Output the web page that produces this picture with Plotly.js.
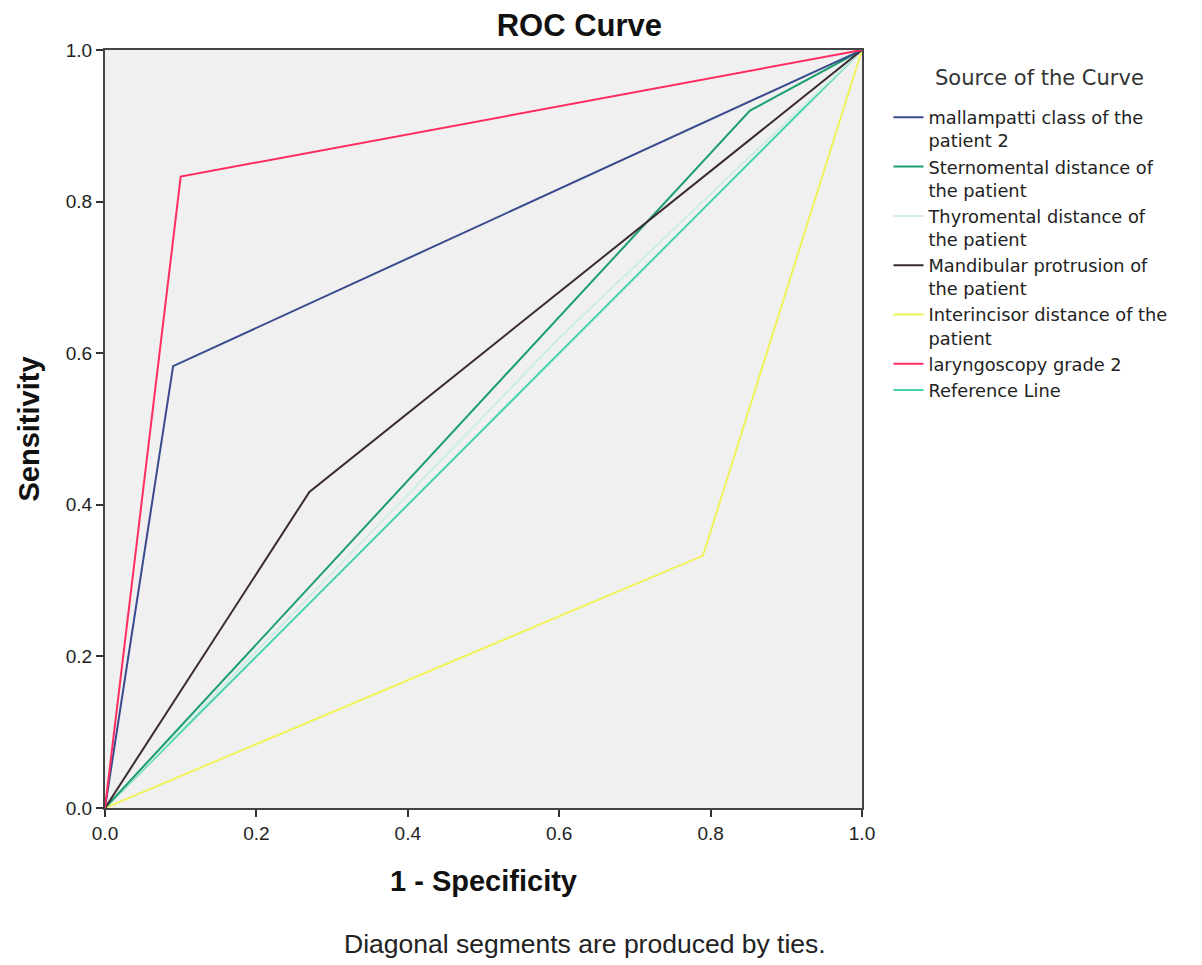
<!DOCTYPE html>
<html>
<head>
<meta charset="utf-8">
<script src="https://cdn.plot.ly/plotly-3.0.1.min.js"></script>
<style>html,body{margin:0;padding:0;background:#fff;}#chart{width:1202px;height:965px;}</style>
</head>
<body>
<div id="chart"></div>
<script>
// Series (1 - Specificity, Sensitivity)
const seriesNames = [
  "mallampatti class of the<br>patient 2",
  "Sternomental distance of<br>the patient",
  "Thyromental distance of<br>the patient",
  "Mandibular protrusion of<br>the patient",
  "Interincisor distance of the<br>patient",
  "laryngoscopy grade 2",
  "Reference Line"
];
const mallampattiX = [0, 0.09, 1];
const mallampattiY = [0, 0.583, 1];
const sternoX = [0, 0.852, 1];
const sternoY = [0, 0.92, 1];
const thyroX = [0, 0.6, 1];
const thyroY = [0, 0.62, 1];
const mandibX = [0, 0.27, 1];
const mandibY = [0, 0.417, 1];
const interX = [0, 0.79, 1];
const interY = [0, 0.333, 1];
const laryngoX = [0, 0.1, 1];
const laryngoY = [0, 0.833, 1];
const refX = [0, 1];
const refY = [0, 1];
const tickVals = [0, 0.2, 0.4, 0.6, 0.8, 1.0];
const tickText = ["0.0", "0.2", "0.4", "0.6", "0.8", "1.0"];

const colors = ["#3a4a8e", "#1a9e6e", "#cfeee3", "#3b2b30", "#f2f25a", "#ff2d5f", "#45d2ac"];
const xs = [mallampattiX, sternoX, thyroX, mandibX, interX, laryngoX, refX];
const ys = [mallampattiY, sternoY, thyroY, mandibY, interY, laryngoY, refY];

const traces = seriesNames.map((n, i) => ({
  x: xs[i], y: ys[i], name: n, type: 'scatter', mode: 'lines',
  line: {color: colors[i], width: 2}
}));
const order = [6, 2, 4, 1, 3, 0, 5];
const drawn = order.map(i => traces[i]);
drawn.forEach((t, k) => { t.legendrank = order[k] + 1; });

const layout = {
  width: 1202, height: 965,
  margin: {l: 105, r: 340, t: 50, b: 157},
  paper_bgcolor: '#ffffff',
  plot_bgcolor: '#f0f0f0',
  font: {family: 'Liberation Sans, Arial, sans-serif', color: '#222'},
  title: {text: '<b>ROC Curve</b>', x: 0.482, xanchor: 'center', y: 0.974, yanchor: 'middle',
          font: {size: 31, color: '#111'}},
  xaxis: {
    range: [0, 1], tickvals: tickVals, ticktext: tickText,
    showgrid: false, zeroline: false,
    showline: true, linecolor: '#444', linewidth: 2, mirror: true,
    ticks: 'outside', ticklen: 7, tickwidth: 2, tickcolor: '#333',
    tickfont: {size: 19, color: '#222'},
    title: {text: '<b>1 - Specificity</b>', font: {size: 29, color: '#111'}, standoff: 28}
  },
  yaxis: {
    range: [0, 1], tickvals: tickVals, ticktext: tickText,
    showgrid: false, zeroline: false,
    showline: true, linecolor: '#444', linewidth: 2, mirror: true,
    ticks: 'outside', ticklen: 7, tickwidth: 2, tickcolor: '#333',
    tickfont: {size: 19, color: '#222'},
    title: {text: '<b>Sensitivity</b>', font: {size: 29, color: '#111'}, standoff: 18}
  },
  legend: {
    x: 1.035, y: 0.935, xanchor: 'left', yanchor: 'top',
    bgcolor: 'rgba(0,0,0,0)',
    font: {size: 17.8, color: '#222', family: 'DejaVu Sans, sans-serif'},
    tracegroupgap: 0, valign: 'top', itemwidth: 30,
    traceorder: 'normal'
  },
  annotations: [{
    text: 'Source of the Curve', xref: 'paper', yref: 'paper',
    x: 1.234, y: 0.963, xanchor: 'center', yanchor: 'middle', showarrow: false,
    font: {size: 21, color: '#333', family: 'DejaVu Sans, sans-serif'}
  }, {
    text: 'Diagonal segments are produced by ties.', xref: 'paper', yref: 'paper',
    x: 0.634, y: -0.18, xanchor: 'center', yanchor: 'middle', showarrow: false,
    font: {size: 26.5, color: '#222'}
  }]
};

Plotly.newPlot('chart', drawn, layout, {displayModeBar: false});
</script>
</body>
</html>
